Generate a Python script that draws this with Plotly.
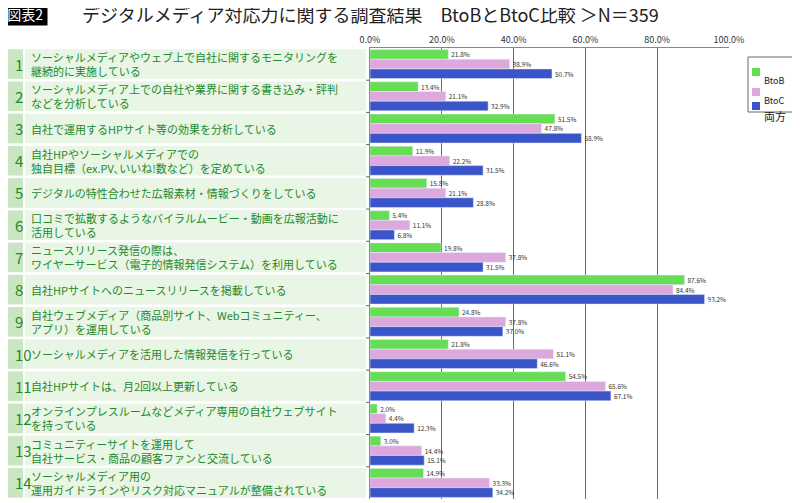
import plotly.graph_objects as go

items = [
    "ソーシャルメディアやウェブ上で自社に関するモニタリングを<br>継続的に実施している",
    "ソーシャルメディア上での自社や業界に関する書き込み・評判<br>などを分析している",
    "自社で運用するHPサイト等の効果を分析している",
    "自社HPやソーシャルメディアでの<br>独自目標（ex.PV､いいね!数など）を定めている",
    "デジタルの特性合わせた広報素材・情報づくりをしている",
    "口コミで拡散するようなバイラルムービー・動画を広報活動に<br>活用している",
    "ニュースリリース発信の際は、<br>ワイヤーサービス（電子的情報発信システム）を利用している",
    "自社HPサイトへのニュースリリースを掲載している",
    "自社ウェブメディア（商品別サイト、Webコミュニティー、<br>アプリ）を運用している",
    "ソーシャルメディアを活用した情報発信を行っている",
    "自社HPサイトは、月2回以上更新している",
    "オンラインプレスルームなどメディア専用の自社ウェブサイト<br>を持っている",
    "コミュニティーサイトを運用して<br>自社サービス・商品の顧客ファンと交流している",
    "ソーシャルメディア用の<br>運用ガイドラインやリスク対応マニュアルが整備されている",
]
btob = [21.8, 13.4, 51.5, 11.9, 15.8, 5.4, 19.8, 87.6, 24.8, 21.8, 54.5, 2.0, 3.0, 14.9]
btoc = [38.9, 21.1, 47.8, 22.2, 21.1, 11.1, 37.8, 84.4, 37.8, 51.1, 65.6, 4.4, 14.4, 33.3]
both = [50.7, 32.9, 58.9, 31.5, 28.8, 6.8, 31.5, 93.2, 37.0, 46.6, 67.1, 12.3, 15.1, 34.2]
series = [("BtoB", btob, "#66dd55"), ("BtoC", btoc, "#dda8dd"), ("両方", both, "#3a55c8")]
ticks = [0, 20, 40, 60, 80, 100]

font = "Noto Sans CJK JP"
pos = list(range(len(items)))
fig = go.Figure()
for name, vals, col in series:
    fig.add_trace(go.Bar(
        y=pos, x=vals, name=name, orientation="h", marker_color=col,
        text=[f"{v:.1f}%" for v in vals], textposition="outside",
        textfont=dict(size=10, color="#333"), cliponaxis=False, showlegend=False,
    ))

PLOT_H = 451


def px(p):
    return (p - 370) / 359


def py(p):
    return 1 - (p - 48) / PLOT_H


shapes = []
annotations = []
for i, txt in enumerate(items):
    shapes.append(dict(type="rect", xref="paper", yref="y", x0=px(2), x1=px(23),
                       y0=i - 0.46, y1=i + 0.46, fillcolor="#c9e6c3", line_width=0, layer="below"))
    shapes.append(dict(type="rect", xref="paper", yref="y", x0=px(25), x1=px(366),
                       y0=i - 0.46, y1=i + 0.46, fillcolor="#e9f5e5", line_width=0, layer="below"))
    annotations.append(dict(xref="paper", yref="y", x=px(12.5), y=i, text=str(i + 1),
                            showarrow=False, font=dict(size=15, color="#1d8a2c", family=font)))
    annotations.append(dict(xref="paper", yref="y", x=px(29), y=i, text=txt, xanchor="left",
                            align="left", showarrow=False,
                            font=dict(size=11, color="#1d8a2c", family=font)))
    if i > 0:
        shapes.append(dict(type="line", xref="paper", yref="y", x0=px(366), x1=0,
                           y0=i - 0.5, y1=i - 0.5, line=dict(color="#666", width=1)))

# legend box drawn by hand
shapes.append(dict(type="rect", xref="paper", yref="paper", x0=px(748), x1=px(793),
                   y0=py(112), y1=py(57), line=dict(color="#666", width=1), fillcolor="white"))
for k, (name, vals, col) in enumerate(series):
    yc = [72, 92, 106][k]
    shapes.append(dict(type="rect", xref="paper", yref="paper", x0=px(752), x1=px(760),
                       y0=py(yc + 4), y1=py(yc - 4), fillcolor=col, line_width=0))
    annotations.append(dict(xref="paper", yref="paper", x=px(762), y=py(yc), text=name,
                            xanchor="left", showarrow=False,
                            font=dict(size=9 if k < 2 else 11, color="#222", family=font)))

annotations.append(dict(xref="paper", yref="paper", x=px(2), y=py(14), yanchor="middle", xanchor="left",
                        text=" 図表2 ", bgcolor="black", showarrow=False,
                        font=dict(size=14, color="white", family=font)))
annotations.append(dict(xref="paper", yref="paper", x=px(80), y=py(14), yanchor="middle", xanchor="left",
                        text="デジタルメディア対応力に関する調査結果　BtoBとBtoC比較 ＞N＝359",
                        showarrow=False, font=dict(size=18, color="#222", family=font)))

fig.update_layout(
    width=792, height=495,
    margin=dict(l=362, r=71, t=40, b=4),
    paper_bgcolor="white", plot_bgcolor="white",
    barmode="group", bargap=0.1, bargroupgap=0,
    font=dict(family=font), showlegend=False,
    xaxis=dict(side="top", range=[0, 100], tickmode="array", tickvals=ticks,
               ticktext=[f"{t}.0%" for t in ticks], showgrid=True, gridcolor="#666",
               gridwidth=1, tickfont=dict(size=9, color="#333"), zeroline=False,
               showline=True, linecolor="#888"),
    yaxis=dict(showticklabels=False, showgrid=False, range=[13.5, -0.5],
               showline=True, linecolor="#888", zeroline=False),
    shapes=shapes, annotations=annotations,
)
fig.write_html("out.html")
